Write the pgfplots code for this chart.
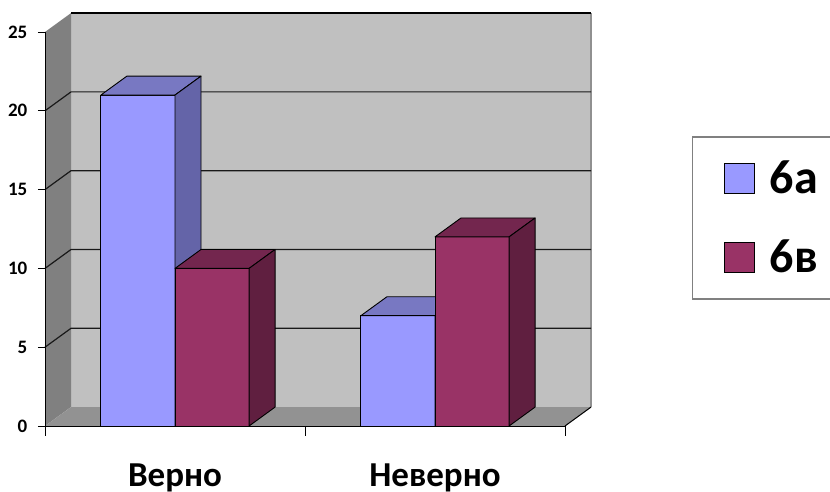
\documentclass[border=0pt]{standalone}
\usepackage{fontspec}
\setmainfont{Carlito}
\usepackage{pgfplots}
\usepackage{pgfplotstable}
\pgfplotsset{compat=1.18}

% wall and bar colours
\definecolor{backwall}{RGB}{192,192,192}
\definecolor{sidewall}{RGB}{128,128,128}
\definecolor{floorgray}{RGB}{146,146,146}
\definecolor{frontA}{RGB}{153,153,255}
\definecolor{topA}{RGB}{120,120,194}
\definecolor{sideA}{RGB}{100,100,168}
\definecolor{frontB}{RGB}{153,51,102}
\definecolor{topB}{RGB}{115,38,78}
\definecolor{sideB}{RGB}{96,31,64}

% answers per class: x = category centre, a = 6а, b = 6в
\pgfplotstableread{
x   a   b
0.5 21  10
1.5 7   12
}\answers

\pgfplotstablegetelem{0}{x}\of\answers \let\xOne\pgfplotsretval
\pgfplotstablegetelem{1}{x}\of\answers \let\xTwo\pgfplotsretval
\pgfplotstablegetelem{0}{a}\of\answers \let\aOne\pgfplotsretval
\pgfplotstablegetelem{1}{a}\of\answers \let\aTwo\pgfplotsretval
\pgfplotstablegetelem{0}{b}\of\answers \let\bOne\pgfplotsretval
\pgfplotstablegetelem{1}{b}\of\answers \let\bTwo\pgfplotsretval

% bar half width and depth offset of the 3D box (axis units)
\def\bs{0.1425}
\def\dx{0.1}
\def\dy{1.2}

% top and right faces of a bar: #1 centre, #2 shift, #3 value, #4 top, #5 side
\newcommand\barfaces[5]{%
  \pgfmathsetmacro\bL{#1+#2-\bs}%
  \pgfmathsetmacro\bR{#1+#2+\bs}%
  \pgfmathsetmacro\bLd{\bL+\dx}%
  \pgfmathsetmacro\bRd{\bR+\dx}%
  \pgfmathsetmacro\bT{#3+\dy}%
  \edef\tmp{%
    \noexpand\addplot[forget plot, fill=#4, draw=black, line width=0.9bp, line join=round]
      coordinates {(\bL,#3) (\bR,#3) (\bRd,\bT) (\bLd,\bT)} --cycle;
    \noexpand\addplot[forget plot, fill=#5, draw=black, line width=0.9bp, line join=round]
      coordinates {(\bR,0) (\bRd,\dy) (\bRd,\bT) (\bR,#3)} --cycle;
  }\tmp}

\begin{document}
\begin{tikzpicture}
\begin{axis}[
  scale only axis, width=520bp, height=394bp,
  xmin=0, xmax=2, ymin=0, ymax=25,
  clip=false, axis on top,
  axis x line*=bottom, axis y line*=left,
  axis line style={-, black, line width=0.9bp},
  tick align=outside,
  tick style={black, line width=0.9bp},
  major tick length=7bp,
  ytick={0,5,...,25},
  xtick={0.5,1.5},
  xticklabels={Верно,Неверно},
  xtick style={draw=none, /pgfplots/major tick length=10bp},
  xticklabel style={font=\fontsize{35bp}{35bp}\selectfont\bfseries, anchor=base, inner sep=0pt, yshift=-53bp},
  /pgf/number format/assume math mode=true,
  yticklabel style={font=\fontsize{19bp}{19bp}\selectfont\bfseries, inner sep=0pt, xshift=-10.5bp},
  legend style={at={(1.2442,0.736)}, anchor=north west,
    draw={rgb,255:red,128;green,128;blue,128}, line width=1.5bp,
    inner xsep=31bp, inner ysep=26bp, row sep=48bp, column sep=15bp,
    font=\fontsize{48bp}{48bp}\selectfont\bfseries,
    nodes={inner sep=0pt, text height=30bp, text depth=0bp}},
  legend cell align=left,
  legend image code/.code={\draw[#1, draw=black, line width=1bp] (0bp,-15bp) rectangle (30bp,15bp);},
]
% walls and floor
\addplot[forget plot, fill=backwall, draw=none] coordinates {(0.1,1.2) (2.1,1.2) (2.1,26.2) (0.1,26.2)} --cycle;
\addplot[forget plot, fill=sidewall, draw=none] coordinates {(0,0) (0.1,1.2) (0.1,26.2) (0,25)} --cycle;
\addplot[forget plot, fill=floorgray, draw=none] coordinates {(0,0) (2,0) (2.1,1.2) (0.1,1.2)} --cycle;
\addplot[forget plot, draw={rgb,255:red,144;green,144;blue,144}, line width=1.2bp] coordinates {(2.1,1.2) (2.1,26.2)};
\addplot[forget plot, draw=black, line width=1.2bp] coordinates {(0.1,26.2) (2.1,26.2)};
\addplot[forget plot, draw=black, line width=1bp] coordinates {(2,0) (2.1,1.2)};
% gridlines on the side and back wall
\addplot[forget plot, draw=black!90, line width=1.2bp] coordinates {(0,5) (0.1,6.2) (2.1,6.2)};
\addplot[forget plot, draw=black!90, line width=1.2bp] coordinates {(0,10) (0.1,11.2) (2.1,11.2)};
\addplot[forget plot, draw=black!90, line width=1.2bp] coordinates {(0,15) (0.1,16.2) (2.1,16.2)};
\addplot[forget plot, draw=black!90, line width=1.2bp] coordinates {(0,20) (0.1,21.2) (2.1,21.2)};
% category separators below the floor
\addplot[forget plot, draw=black, line width=0.9bp] coordinates {(0,0) (0,-0.635)};
\addplot[forget plot, draw=black, line width=0.9bp] coordinates {(1,0) (1,-0.635)};
\addplot[forget plot, draw=black, line width=0.9bp] coordinates {(2,0) (2,-0.635)};

% class 6а
\addplot[ybar, bar width=0.285, bar shift=-0.1425, fill=frontA, draw=black, line width=0.9bp]
  table[x=x, y=a] {\answers};
\addlegendentry{6а}
\barfaces{\xOne}{-0.1425}{\aOne}{topA}{sideA}
\barfaces{\xTwo}{-0.1425}{\aTwo}{topA}{sideA}

% class 6в
\addplot[ybar, bar width=0.285, bar shift=0.1425, fill=frontB, draw=black, line width=0.9bp]
  table[x=x, y=b] {\answers};
\addlegendentry{6в}
\barfaces{\xOne}{0.1425}{\bOne}{topB}{sideB}
\barfaces{\xTwo}{0.1425}{\bTwo}{topB}{sideB}
\end{axis}
\pgfresetboundingbox
\useasboundingbox (-45bp,-66bp) rectangle (785bp,426bp);
\end{tikzpicture}
\end{document}
